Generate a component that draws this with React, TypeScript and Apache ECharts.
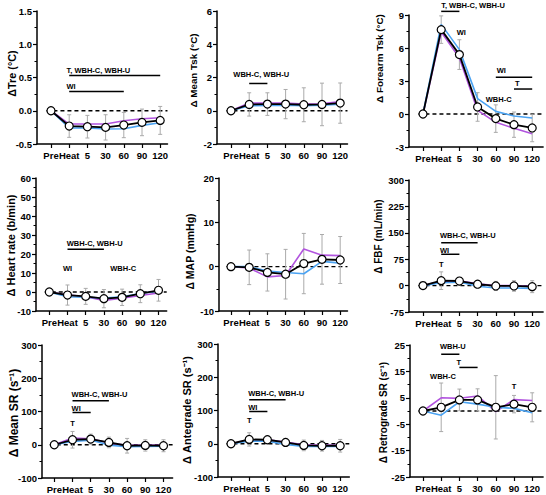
import React, { useEffect, useRef } from "react";
import * as echarts from "echarts";

const CATEGORIES = ["Pre", "Heat", "5", "30", "60", "90", "120"];

// Panel 1: Tre
const treMean = [0, -0.23, -0.24, -0.25, -0.215, -0.175, -0.145];
const treSD = [0, 0.17, 0.17, 0.19, 0.19, 0.2, 0.21];
const trePurple = [0, -0.2, -0.2, -0.2, -0.15, -0.12, -0.105];
const treBlue = [0, -0.26, -0.26, -0.275, -0.27, -0.22, -0.18];
// Panel 2: Mean Tsk
const tskMean = [0, 0.38, 0.4, 0.4, 0.36, 0.38, 0.46];
const tskSD = [0, 0.7, 0.68, 0.88, 1.02, 1.28, 1.21];
const tskPurple = [0, 0.46, 0.46, 0.46, 0.4, 0.42, 0.55];
const tskBlue = [0, 0.3, 0.32, 0.33, 0.3, 0.33, 0.4];
// Panel 3: Forearm Tsk
const ftskMean = [0, 7.67, 5.4, 0.64, -0.42, -0.97, -1.27];
const ftskSD = [0, 1.25, 1.35, 1.3, 1.25, 1.15, 1.25];
const ftskPurple = [0, 7.45, 5.1, 0.33, -0.76, -1.3, -1.8];
const ftskBlue = [0, 8.15, 5.85, 1.4, 0.24, -0.18, -0.36];
// Panel 4: Heart rate
const hrMean = [0, -1.6, -2.3, -3.5, -2.8, -0.9, 0.9];
const hrSD = [0, 5.3, 4.2, 4.8, 4.3, 4.7, 5.7];
const hrPurple = [0, -1.5, -2.5, -4.5, -3.3, -1.8, -0.5];
const hrBlue = [0, -2.5, -2.8, -3.2, -2.5, -0.8, 0.5];
// Panel 5: MAP
const mapMean = [0, -0.15, -1.3, -1.7, 0.7, 1.65, 1.5];
const mapSD = [0, 3.9, 4.2, 5.6, 6.8, 5.6, 5.3];
const mapPurple = [0, -0.3, -2.3, -2.0, 4.0, 2.6, 2.5];
const mapBlue = [0, 0, -1.0, -1.3, -1.6, 1.2, 0.8];
// Panel 6: FBF
const fbfMean = [0, 14, 13, 4, -1, -1, -3];
const fbfSD = [0, 25, 11, 6, 13, 15, 17];
const fbfPurple = [0, 12, 14, 5, 0, 0, -2];
const fbfBlue = [0, 8, 10, -2, -7, -7, -8];
// Panel 7: Mean SR
const msrMean = [0, 15, 17, 7, -3, -2, -3];
const msrSD = [0, 25, 15, 16, 22, 17, 18];
const msrPurple = [0, 20, 18, 5, -2, -1, -2];
const msrBlue = [0, 10, 14, -1, -6, -5, -4];
// Panel 8: Antegrade SR
const asrMean = [0, 13, 12, 4, -5, -6, -6];
const asrSD = [0, 20, 11, 12, 16, 16, 19];
const asrPurple = [0, 12, 12, 5, -3, -4, -5];
const asrBlue = [0, 8, 8, -2, -8, -8, -8];
// Panel 9: Retrograde SR
const rsrMean = [0, 1.4, 4.2, 4.2, 1.4, 2.6, 1.4];
const rsrSD = [0, 9.2, 4.1, 4.2, 12, 3.3, 5.5];
const rsrPurple = [0, 5, 4.8, 5.7, -0.2, 4.3, 4.0];
const rsrBlue = [0, -1.6, 3.5, 2.6, 1.4, 1.0, -0.7];

// Significance bars: [fromIndex, toIndex, y]
const treBars = [[1, 6, 0.53], [1, 4, 0.29]];
const tskBars = [[1, 2, 1.64]];
const ftskBars = [[1, 2, 9.33], [4, 6, 3.33], [5, 6, 2.27]];
const hrBars = [[1, 3, 22.5]];
const mapBars: number[][] = [];
const fbfBars = [[1, 3, 122], [1, 2, 89]];
const msrBars = [[1, 3, 132], [1, 2, 97]];
const asrBars = [[1, 3, 132], [1, 2, 97]];
const rsrBars = [[1, 2, 21.5], [2, 3, 16.5]];

// Significance labels: [text, x, y, align]
const treTexts = [["T, WBH-C, WBH-U", 0.85, 0.61, "left"], ["WI", 0.85, 0.37, "left"]];
const tskTexts = [["WBH-C, WBH-U", 0.13, 2.2, "left"]];
const ftskTexts = [
  ["T, WBH-C, WBH-U", 1, 9.9, "left"],
  ["WI", 1.85, 7.4, "left"],
  ["WI", 4.05, 3.97, "left"],
  ["T", 5.05, 2.76, "left"],
  ["WBH-C", 3.45, 1.3, "left"],
];
const hrTexts = [["WBH-C, WBH-U", 0.96, 25.5, "left"], ["WI", 1.0, 12.4, "center"], ["WBH-C", 4.06, 12.4, "center"]];
const mapTexts: any[] = [];
const fbfTexts = [["WBH-C, WBH-U", 0.93, 143, "left"], ["WI", 0.93, 100, "left"], ["T", 1, 61, "center"]];
const msrTexts = [["WBH-C, WBH-U", 0.95, 150, "left"], ["WI", 0.95, 110, "left"], ["T", 1, 65, "center"]];
const asrTexts = [["WBH-C, WBH-U", 0.95, 152, "left"], ["WI", 0.95, 110, "left"], ["T", 1, 70, "center"]];
const rsrTexts = [["WBH-U", 0.93, 24.4, "left"], ["T", 1.97, 18.4, "center"], ["WBH-C", 1.1, 13, "center"], ["T", 5, 9.2, "center"]];

const FONT = '"Liberation Sans", Arial, Helvetica, sans-serif';
const PURPLE = "#b154de";
const BLUE = "#4ba3f2";
const STEP = 18.2;

const panels = [
  { name: "ΔTre (°C)", mean: treMean, sd: treSD, purple: trePurple, blue: treBlue, bars: treBars, texts: treTexts,
    yMin: -0.5, yMax: 1.5, yInt: 0.5, dec: 1, left: 37, pre: 51, top: 11, bottom: 144, xMax: 6.4, nameSize: 10.8, nameX: 11.5, nameY: 73.5 },
  { name: "Δ Mean Tsk (°C)", mean: tskMean, sd: tskSD, purple: tskPurple, blue: tskBlue, bars: tskBars, texts: tskTexts,
    yMin: -2, yMax: 6, yInt: 2, dec: 0, left: 217, pre: 231, top: 11, bottom: 144, xMax: 6.4, nameSize: 9.8, nameX: 193, nameY: 70.5 },
  { name: "Δ Forearm Tsk (°C)", mean: ftskMean, sd: ftskSD, purple: ftskPurple, blue: ftskBlue, bars: ftskBars, texts: ftskTexts,
    yMin: -3, yMax: 9, yInt: 3, dec: 0, left: 409, pre: 423, top: 15, bottom: 147, xMax: 6.6, nameSize: 9.9, nameX: 379, nameY: 58.5 },
  { name: "Δ Heart rate (b/min)", mean: hrMean, sd: hrSD, purple: hrPurple, blue: hrBlue, bars: hrBars, texts: hrTexts,
    yMin: -10, yMax: 60, yInt: 10, dec: 0, left: 36, pre: 49.3, top: 178, bottom: 311, xMax: 6.45, nameSize: 11, nameX: 11, nameY: 245.5 },
  { name: "Δ MAP (mmHg)", mean: mapMean, sd: mapSD, purple: mapPurple, blue: mapBlue, bars: mapBars, texts: mapTexts,
    yMin: -10, yMax: 20, yInt: 10, dec: 0, left: 219, pre: 231, top: 178, bottom: 311, xMax: 6.4, nameSize: 10.5, nameX: 190, nameY: 251.5 },
  { name: "Δ FBF (mL/min)", mean: fbfMean, sd: fbfSD, purple: fbfPurple, blue: fbfBlue, bars: fbfBars, texts: fbfTexts,
    yMin: -75, yMax: 300, yInt: 75, dec: 0, left: 409, pre: 423, top: 180, bottom: 312, xMax: 6.6, nameSize: 10, nameX: 378.5, nameY: 236.5 },
  { name: "Δ Mean SR (s⁻¹)", mean: msrMean, sd: msrSD, purple: msrPurple, blue: msrBlue, bars: msrBars, texts: msrTexts,
    yMin: -100, yMax: 300, yInt: 100, dec: 0, left: 42, pre: 54.3, top: 345, bottom: 478, xMax: 6.5, nameSize: 12, nameX: 13.5, nameY: 413 },
  { name: "Δ Antegrade SR (s⁻¹)", mean: asrMean, sd: asrSD, purple: asrPurple, blue: asrBlue, bars: asrBars, texts: asrTexts,
    yMin: -100, yMax: 300, yInt: 100, dec: 0, left: 218, pre: 231, top: 344, bottom: 477, xMax: 6.5, nameSize: 11, nameX: 187, nameY: 410 },
  { name: "Δ Retrograde SR (s⁻¹)", mean: rsrMean, sd: rsrSD, purple: rsrPurple, blue: rsrBlue, bars: rsrBars, texts: rsrTexts,
    yMin: -25, yMax: 25, yInt: 0, dec: 0, left: 410, pre: 423, top: 345, bottom: 477, xMax: 6.6, nameSize: 10, nameX: 383, nameY: 412.5,
    majors: [-25, -15, -5, 5, 15, 25], minors: [-20, -10, 0, 10, 20] },
];

const IDX = CATEGORIES.map((_, i) => i);

function buildOption() {
  const grid: any[] = [];
  const xAxis: any[] = [];
  const yAxis: any[] = [];
  const series: any[] = [];
  const extraY: any[] = [];
  const graphic: any[] = [];

  panels.forEach((p: any, i) => {
    const xMin = -(p.pre - p.left) / STEP;
    grid.push({ left: p.left, top: p.top, width: (p.xMax - xMin) * STEP, height: p.bottom - p.top });
    graphic.push({
      type: "text", x: p.nameX, y: p.nameY, rotation: Math.PI / 2, silent: true,
      style: { text: p.name, fill: "#000", font: `bold ${p.nameSize}px ${FONT}`, align: "center", verticalAlign: "middle" },
    });
    xAxis.push({
      gridIndex: i, type: "value", min: xMin, max: p.xMax,
      axisLine: { show: true, onZero: false, lineStyle: { color: "#000", width: 1.5 } },
      axisTick: { show: true, customValues: IDX, length: 4, lineStyle: { color: "#000", width: 1.2 } },
      axisLabel: { show: true, customValues: IDX, formatter: (v: number) => CATEGORIES[Math.round(v)] ?? "",
        fontSize: 9.5, fontWeight: "bold", color: "#000", margin: 6, fontFamily: FONT },
      splitLine: { show: false },
    });
    const fmt = (v: number) => (p.dec ? v.toFixed(p.dec) : String(Math.round(v)));
    const y: any = {
      gridIndex: i, type: "value", min: p.yMin, max: p.yMax, position: "left",
      axisLine: { show: true, onZero: false, lineStyle: { color: "#000", width: 1.5 } },
      axisTick: { show: true, length: 4, lineStyle: { color: "#000", width: 1.2 } },
      axisLabel: { show: true, formatter: fmt, fontSize: 9.5, fontWeight: "bold", color: "#000", margin: 5, fontFamily: FONT },
      splitLine: { show: false },
    };
    if (p.majors) {
      y.axisLabel.customValues = p.majors;
      y.axisTick.customValues = p.majors;
      extraY.push({
        gridIndex: i, type: "value", min: p.yMin, max: p.yMax, position: "left", offset: 0,
        axisLine: { show: false, onZero: false },
        axisTick: { show: true, customValues: p.minors, length: 2.5, lineStyle: { color: "#000", width: 1 } },
        axisLabel: { show: false }, splitLine: { show: false },
      });
    } else {
      y.interval = p.yInt;
      y.minorTick = { show: true, splitNumber: 2, length: 2.5, lineStyle: { color: "#000", width: 1 } };
      y.minorSplitLine = { show: false };
    }
    yAxis.push(y);

    const ax = { xAxisIndex: i, yAxisIndex: i };
    series.push({
      ...ax, type: "line", data: [[-0.25, 0], [p.xMax, 0]], symbol: "none", silent: true, z: 1,
      lineStyle: { type: [4, 3], color: "#000", width: 1.4 },
    });
    const errData = p.mean.map((m: number, k: number) => [k, m, p.sd[k]]).filter((d: number[]) => d[2] > 0);
    series.push({
      ...ax, type: "custom", z: 2, silent: true, data: errData,
      renderItem: (_params: any, api: any) => {
        const x = api.value(0), m = api.value(1), s = api.value(2);
        const t = api.coord([x, m + s]);
        const b = api.coord([x, m - s]);
        const st = { stroke: "#aaaaaa", lineWidth: 1 };
        return {
          type: "group",
          children: [
            { type: "line", shape: { x1: t[0], y1: t[1], x2: b[0], y2: b[1] }, style: st },
            { type: "line", shape: { x1: t[0] - 2, y1: t[1], x2: t[0] + 2, y2: t[1] }, style: st },
            { type: "line", shape: { x1: b[0] - 2, y1: b[1], x2: b[0] + 2, y2: b[1] }, style: st },
          ],
        };
      },
    });
    series.push({
      ...ax, type: "line", z: 3, symbol: "none", data: p.purple.map((v: number, k: number) => [k, v]),
      lineStyle: { color: PURPLE, width: 1.6 },
    });
    series.push({
      ...ax, type: "line", z: 3, symbol: "none", data: p.blue.map((v: number, k: number) => [k, v]),
      lineStyle: { color: BLUE, width: 1.6 },
    });
    series.push({
      ...ax, type: "line", z: 4, symbol: "circle", symbolSize: 8, data: p.mean.map((v: number, k: number) => [k, v]),
      lineStyle: { color: "#000", width: 1.8 },
      itemStyle: { color: "#fff", borderColor: "#000", borderWidth: 1.2 },
    });
    if (p.bars.length) {
      series.push({
        ...ax, type: "custom", z: 5, silent: true, clip: false, data: p.bars,
        renderItem: (_params: any, api: any) => {
          const a = api.coord([api.value(0), api.value(2)]);
          const b = api.coord([api.value(1), api.value(2)]);
          return { type: "line", shape: { x1: a[0], y1: a[1], x2: b[0], y2: b[1] }, style: { stroke: "#000", lineWidth: 1.5 } };
        },
      });
    }
    if (p.texts.length) {
      series.push({
        ...ax, type: "custom", z: 5, silent: true, clip: false, data: p.texts.map((t: any[]) => [t[1], t[2]]),
        renderItem: (params: any, api: any) => {
          const t = p.texts[params.dataIndex];
          const c = api.coord([api.value(0), api.value(1)]);
          return {
            type: "text", x: c[0], y: c[1],
            style: { text: t[0], fill: "#000", font: `bold 7.5px ${FONT}`, align: t[3], verticalAlign: "middle" },
          };
        },
      });
    }
  });

  return { animation: false, backgroundColor: "#fff", grid, xAxis, yAxis: [...yAxis, ...extraY], series, graphic };
}

export default function App() {
  const ref = useRef<HTMLDivElement>(null);
  useEffect(() => {
    document.body.style.margin = "0";
    if (!ref.current) return;
    const chart = echarts.init(ref.current, null, { renderer: "svg" });
    chart.setOption(buildOption());
    return () => chart.dispose();
  }, []);
  return <div ref={ref} style={{ width: 546, height: 495 }} />;
}
